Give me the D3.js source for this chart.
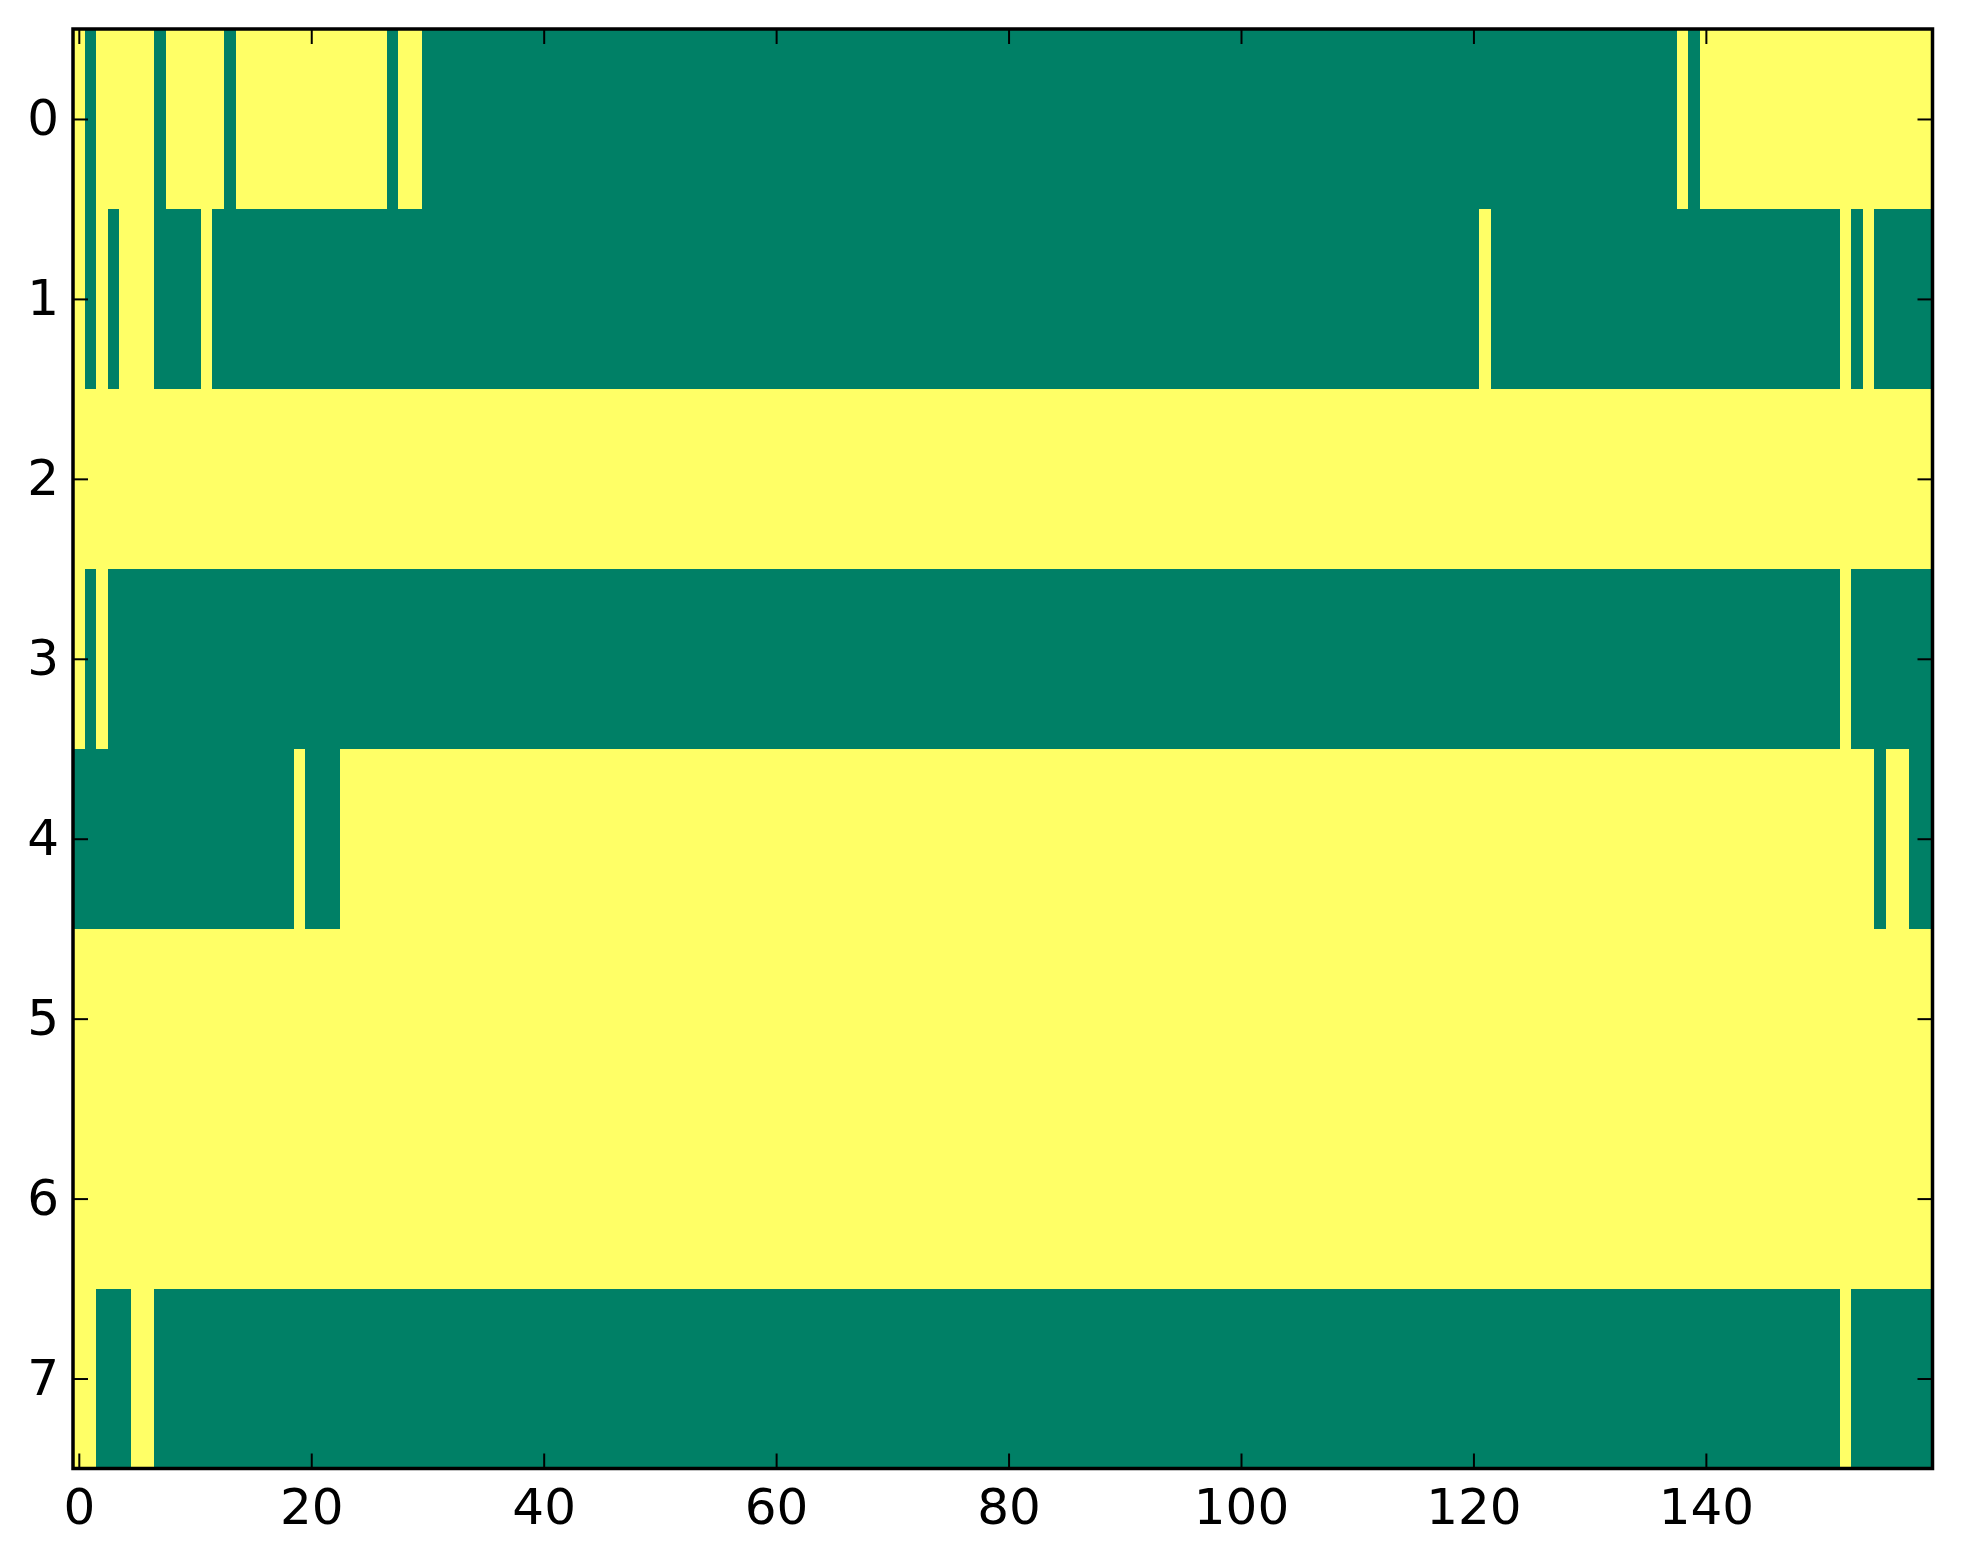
<!DOCTYPE html>
<html>
<head>
<meta charset="utf-8">
<script src="https://cdn.jsdelivr.net/npm/d3@7"></script>
<style>
  body { margin: 0; background: #fff; }
  svg { display: block; }
  .tick text { font-family: "DejaVu Sans", sans-serif; font-size: 50px; fill: #000; }
  .tick line { stroke: #000; stroke-width: 2; }
</style>
</head>
<body>
<svg width="1963" height="1564"></svg>
<script>
// 1 = high (yellow), 0 = low (green); each row given as [value, run length] pairs, left to right
var row0 = [[1,1],[0,1],[1,5],[0,1],[1,5],[0,1],[1,13],[0,1],[1,2],[0,108],[1,1],[0,1],[1,20]];
var row1 = [[1,1],[0,1],[1,1],[0,1],[1,3],[0,4],[1,1],[0,109],[1,1],[0,30],[1,1],[0,1],[1,1],[0,5]];
var row2 = [[1,160]];
var row3 = [[1,1],[0,1],[1,1],[0,149],[1,1],[0,7]];
var row4 = [[0,19],[1,1],[0,3],[1,132],[0,1],[1,2],[0,2]];
var row5 = [[1,160]];
var row6 = [[1,160]];
var row7 = [[1,2],[0,3],[1,2],[0,145],[1,1],[0,7]];

var rows = [row0, row1, row2, row3, row4, row5, row6, row7];
var nCols = 160;

var xTicks = [0, 20, 40, 60, 80, 100, 120, 140];
var yTicks = [0, 1, 2, 3, 4, 5, 6, 7];

var svg = d3.select("svg");
var box = { left: 73, right: 1932.5, top: 29, bottom: 1468.5 };

var x = d3.scaleLinear().domain([-0.5, nCols - 0.5]).range([box.left, box.right]);
var y = d3.scaleLinear().domain([-0.5, rows.length - 0.5]).range([box.top, box.bottom]);
var color = d3.scaleLinear().domain([0, 1]).range(["#008066", "#ffff66"]);

// expand runs into cells
var cells = [];
rows.forEach(function(runs, r) {
  var c = 0;
  runs.forEach(function(run) {
    for (var k = 0; k < run[1]; k++) {
      cells.push({ row: r, col: c, v: run[0] });
      c++;
    }
  });
});

svg.append("g")
  .selectAll("rect")
  .data(cells)
  .enter().append("rect")
  .attr("x", d => x(d.col - 0.5))
  .attr("y", d => y(d.row - 0.5))
  .attr("width", d => x(d.col + 0.5) - x(d.col - 0.5))
  .attr("height", d => y(d.row + 0.5) - y(d.row - 0.5))
  .attr("fill", d => color(d.v))
  .attr("shape-rendering", "crispEdges");

var tl = 15;

var gb = svg.append("g").attr("transform", "translate(0," + box.bottom + ")")
  .call(d3.axisBottom(x).tickValues(xTicks).tickSize(-tl).tickPadding(20));
var gt = svg.append("g").attr("transform", "translate(0," + box.top + ")")
  .call(d3.axisTop(x).tickValues(xTicks).tickSize(-tl).tickFormat(""));
var gl = svg.append("g").attr("transform", "translate(" + box.left + ",0)")
  .call(d3.axisLeft(y).tickValues(yTicks).tickSize(-tl).tickPadding(14));
var gr = svg.append("g").attr("transform", "translate(" + box.right + ",0)")
  .call(d3.axisRight(y).tickValues(yTicks).tickSize(-tl).tickFormat(""));

[gb, gt, gl, gr].forEach(g => g.select(".domain").remove());

svg.append("rect")
  .attr("x", box.left).attr("y", box.top)
  .attr("width", box.right - box.left).attr("height", box.bottom - box.top)
  .attr("fill", "none").attr("stroke", "#000").attr("stroke-width", 3.5);
</script>
</body>
</html>
